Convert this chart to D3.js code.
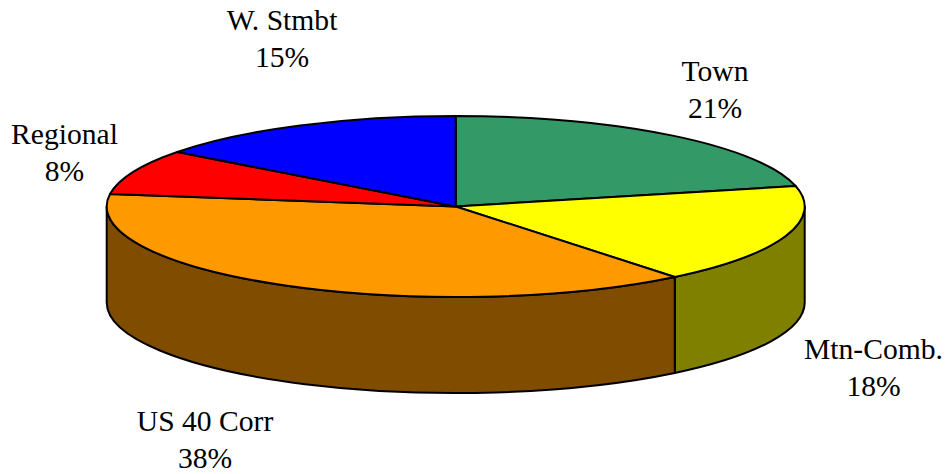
<!DOCTYPE html>
<html>
<head>
<meta charset="utf-8">
<script src="https://cdn.jsdelivr.net/npm/d3@7"></script>
<style>
  html, body { margin: 0; padding: 0; background: #fff; }
  text { font-family: "Liberation Serif", serif; font-size: 29.6px; fill: #000; }
</style>
</head>
<body>
<svg id="chart" width="946" height="474" style="display:block"></svg>
<script>
const categories = ['Town', 'Mtn-Comb.', 'US 40 Corr', 'Regional', 'W. Stmbt'];
const percents = [21.36, 17.84, 38, 8.1, 14.7];
const topColors = ['#339966', '#ffff00', '#ff9900', '#ff0000', '#0000ff'];
const sideColors = ['#1a4d33', '#808000', '#804d00', '#800000', '#000080'];
// label centre x and baseline of the first line
const labelX = [715, 873.5, 205, 64.5, 282];
const labelY = [81, 359, 431, 144, 30];
const lineGap = 37;

const cx = 455.7, cy = 206.5, rx = 349, ry = 90.5, depth = 96;

const svg = d3.select('#chart');
const pie = d3.pie().sort(null).value(d => d)(percents);

// unit circle -> ellipse, angle 0 at 12 o'clock going clockwise
const px = d3.scaleLinear().domain([-1, 1]).range([cx - rx, cx + rx]);
const py = d3.scaleLinear().domain([-1, 1]).range([cy - ry, cy + ry]);
const pt = a => [px(Math.sin(a)), py(-Math.cos(a))];

function topPath(s) {
  const p0 = pt(s.startAngle), p1 = pt(s.endAngle);
  const large = s.endAngle - s.startAngle > Math.PI ? 1 : 0;
  return `M${cx},${cy}L${p0}A${rx},${ry} 0 ${large} 1 ${p1}Z`;
}

// outer wall, only the part in front (angles between 90 and 270 deg)
function sidePath(s) {
  const a0 = Math.max(s.startAngle, Math.PI / 2);
  const a1 = Math.min(s.endAngle, Math.PI * 1.5);
  if (a1 <= a0) return null;
  const p0 = pt(a0), p1 = pt(a1);
  return `M${p0}A${rx},${ry} 0 0 1 ${p1}L${p1[0]},${p1[1] + depth}A${rx},${ry} 0 0 0 ${p0[0]},${p0[1] + depth}Z`;
}

svg.append('g').selectAll('path')
  .data(pie.filter(s => sidePath(s)))
  .enter().append('path')
  .attr('d', sidePath)
  .attr('fill', d => sideColors[d.index])
  .attr('stroke', '#000')
  .attr('stroke-width', 2)
  .attr('stroke-linejoin', 'round');

svg.append('g').selectAll('path')
  .data(pie)
  .enter().append('path')
  .attr('d', topPath)
  .attr('fill', d => topColors[d.index])
  .attr('stroke', '#000')
  .attr('stroke-width', 2)
  .attr('stroke-linejoin', 'round');

const labels = svg.append('g').selectAll('text')
  .data(categories)
  .enter().append('text')
  .attr('text-anchor', 'middle');

labels.append('tspan')
  .attr('x', (d, i) => labelX[i])
  .attr('y', (d, i) => labelY[i])
  .text(d => d);

labels.append('tspan')
  .attr('x', (d, i) => labelX[i])
  .attr('y', (d, i) => labelY[i] + lineGap)
  .text((d, i) => Math.round(percents[i]) + '%');
</script>
</body>
</html>
